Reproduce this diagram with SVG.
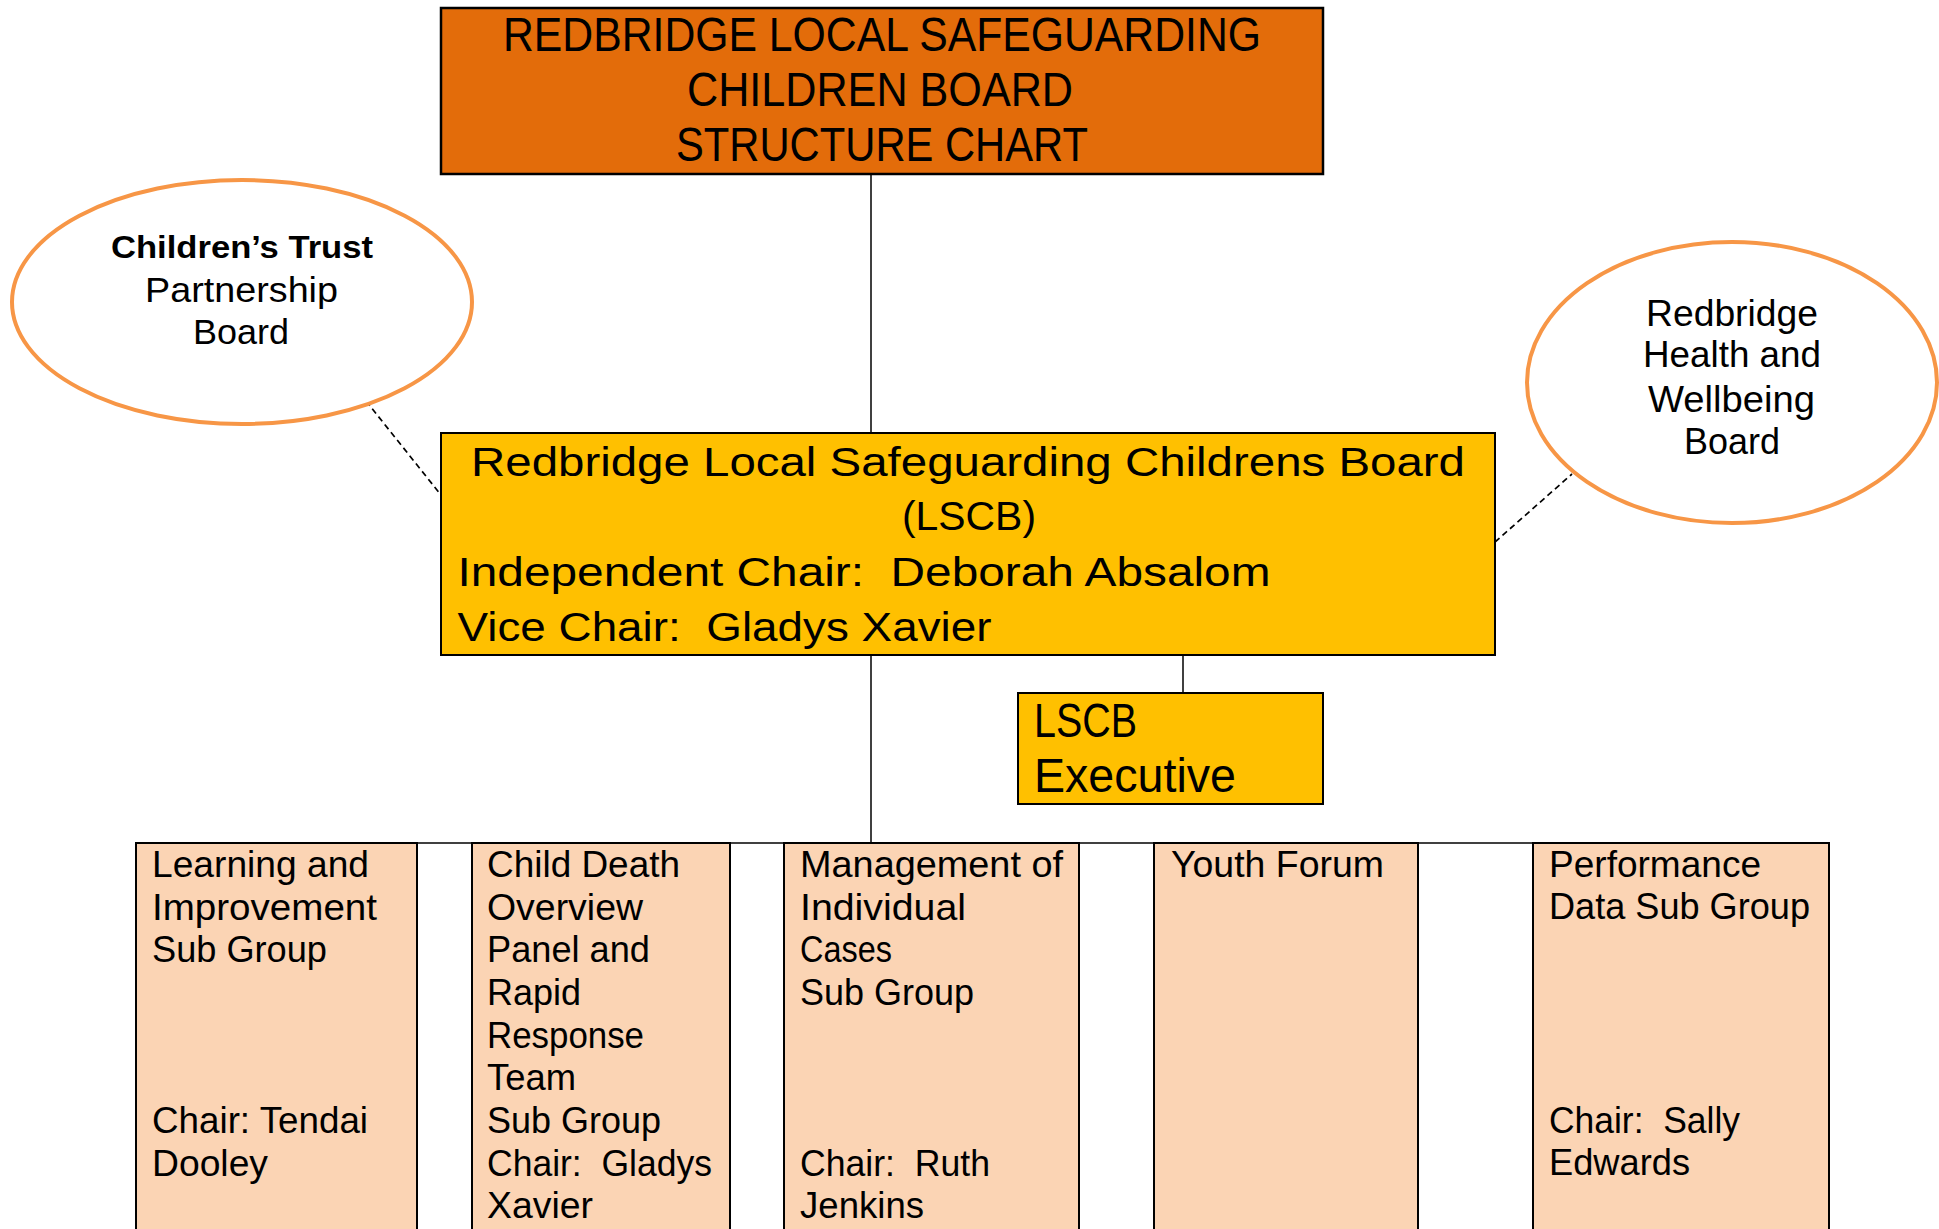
<svg xmlns="http://www.w3.org/2000/svg" width="1939" height="1229" viewBox="0 0 1939 1229" xml:space="preserve">
<style>
text{font-family:"Liberation Sans",Arial,sans-serif;fill:#000;white-space:pre}
.t{font-size:49px}
.y{font-size:41px}
.e{font-size:35px}
.b{font-size:36px}
.x{font-size:48px}
.ell{fill:#fff;stroke:#F79646;stroke-width:4}
.sub{fill:#FBD4B4;stroke:#000;stroke-width:2}
.conn{stroke:#000;stroke-width:1.5;fill:none}
.dash{stroke:#000;stroke-width:1.7;fill:none;stroke-dasharray:6 4}
</style>
<rect width="1939" height="1229" fill="#fff"/>
<g id="connectors">
<line class="conn" x1="871" y1="174" x2="871" y2="433"/>
<line class="conn" x1="871" y1="655" x2="871" y2="843"/>
<line class="conn" x1="1183" y1="655" x2="1183" y2="693"/>
<line class="dash" x1="366" y1="401" x2="441" y2="495"/>
<line class="dash" x1="1495" y1="542" x2="1572" y2="474"/>
</g>
<g id="title">
<rect x="441" y="8" width="882" height="166" fill="#E36C0A" stroke="#000" stroke-width="2.5"/>
<text class="t" x="882" y="51" text-anchor="middle" textLength="758" lengthAdjust="spacingAndGlyphs">REDBRIDGE LOCAL SAFEGUARDING</text>
<text class="t" x="880" y="106" text-anchor="middle" textLength="386" lengthAdjust="spacingAndGlyphs">CHILDREN BOARD</text>
<text class="t" x="882" y="161" text-anchor="middle" textLength="412" lengthAdjust="spacingAndGlyphs">STRUCTURE CHART</text>
</g>
<g id="childrens-trust">
<ellipse class="ell" cx="242" cy="302" rx="230" ry="122"/>
<text x="242" y="258" text-anchor="middle" font-size="32" font-weight="bold" textLength="262" lengthAdjust="spacingAndGlyphs">Children’s Trust</text>
<text class="e" x="241.5" y="302" text-anchor="middle" textLength="193" lengthAdjust="spacingAndGlyphs">Partnership</text>
<text class="e" x="241" y="344" text-anchor="middle" textLength="96" lengthAdjust="spacingAndGlyphs">Board</text>
</g>
<g id="health-wellbeing">
<ellipse class="ell" cx="1732" cy="382.5" rx="205" ry="140.5"/>
<text class="b" x="1732" y="326" text-anchor="middle" textLength="172" lengthAdjust="spacingAndGlyphs">Redbridge</text>
<text class="b" x="1732" y="367" text-anchor="middle" textLength="178" lengthAdjust="spacingAndGlyphs">Health and</text>
<text class="b" x="1731.5" y="412" text-anchor="middle" textLength="167" lengthAdjust="spacingAndGlyphs">Wellbeing</text>
<text class="b" x="1732" y="454" text-anchor="middle" textLength="96" lengthAdjust="spacingAndGlyphs">Board</text>
</g>
<g id="lscb">
<rect x="441" y="433" width="1054" height="222" fill="#FFC000" stroke="#000" stroke-width="2"/>
<text class="y" x="968" y="476" text-anchor="middle" textLength="994" lengthAdjust="spacingAndGlyphs">Redbridge Local Safeguarding Childrens Board</text>
<text class="y" x="969" y="530" text-anchor="middle" textLength="134" lengthAdjust="spacingAndGlyphs">(LSCB)</text>
<text class="y" x="457.5" y="586" textLength="813" lengthAdjust="spacingAndGlyphs">Independent Chair:  Deborah Absalom</text>
<text class="y" x="457.5" y="641" textLength="534" lengthAdjust="spacingAndGlyphs">Vice Chair:  Gladys Xavier</text>
</g>
<g id="lscb-executive">
<rect x="1018" y="693" width="305" height="111" fill="#FFC000" stroke="#000" stroke-width="2"/>
<text class="x" x="1034" y="737" textLength="103" lengthAdjust="spacingAndGlyphs">LSCB</text>
<text class="x" x="1034" y="792" textLength="202" lengthAdjust="spacingAndGlyphs">Executive</text>
</g>
<line id="subgroups-top" class="conn" x1="136" y1="843" x2="1829" y2="843" stroke-width="2"/>
<g id="learning-improvement">
<rect class="sub" x="136" y="843" width="281" height="400"/>
<text class="b" x="152" y="877" textLength="217" lengthAdjust="spacingAndGlyphs">Learning and</text>
<text class="b" x="152" y="920" textLength="225" lengthAdjust="spacingAndGlyphs">Improvement</text>
<text class="b" x="152" y="962" textLength="175" lengthAdjust="spacingAndGlyphs">Sub Group</text>
<text class="b" x="152" y="1133" textLength="216" lengthAdjust="spacingAndGlyphs">Chair: Tendai</text>
<text class="b" x="152" y="1176" textLength="116" lengthAdjust="spacingAndGlyphs">Dooley</text>
</g>
<g id="child-death">
<rect class="sub" x="472" y="843" width="258" height="400"/>
<text class="b" x="487" y="877" textLength="193" lengthAdjust="spacingAndGlyphs">Child Death</text>
<text class="b" x="487" y="920" textLength="156" lengthAdjust="spacingAndGlyphs">Overview</text>
<text class="b" x="487" y="962" textLength="163" lengthAdjust="spacingAndGlyphs">Panel and</text>
<text class="b" x="487" y="1005" textLength="94" lengthAdjust="spacingAndGlyphs">Rapid</text>
<text class="b" x="487" y="1048" textLength="157" lengthAdjust="spacingAndGlyphs">Response</text>
<text class="b" x="487" y="1090" textLength="89" lengthAdjust="spacingAndGlyphs">Team</text>
<text class="b" x="487" y="1133" textLength="174" lengthAdjust="spacingAndGlyphs">Sub Group</text>
<text class="b" x="487" y="1176" textLength="225" lengthAdjust="spacingAndGlyphs">Chair:  Gladys</text>
<text class="b" x="487" y="1218" textLength="106" lengthAdjust="spacingAndGlyphs">Xavier</text>
</g>
<g id="management-cases">
<rect class="sub" x="784" y="843" width="295" height="400"/>
<text class="b" x="800" y="877" textLength="263" lengthAdjust="spacingAndGlyphs">Management of</text>
<text class="b" x="800" y="920" textLength="166" lengthAdjust="spacingAndGlyphs">Individual</text>
<text class="b" x="800" y="962" textLength="92" lengthAdjust="spacingAndGlyphs">Cases</text>
<text class="b" x="800" y="1005" textLength="174" lengthAdjust="spacingAndGlyphs">Sub Group</text>
<text class="b" x="800" y="1176" textLength="190" lengthAdjust="spacingAndGlyphs">Chair:  Ruth</text>
<text class="b" x="800" y="1218" textLength="124" lengthAdjust="spacingAndGlyphs">Jenkins</text>
</g>
<g id="youth-forum">
<rect class="sub" x="1154" y="843" width="264" height="400"/>
<text class="b" x="1171" y="877" textLength="213" lengthAdjust="spacingAndGlyphs">Youth Forum</text>
</g>
<g id="performance-data">
<rect class="sub" x="1533" y="843" width="296" height="400"/>
<text class="b" x="1549" y="877" textLength="212" lengthAdjust="spacingAndGlyphs">Performance</text>
<text class="b" x="1549" y="919" textLength="261" lengthAdjust="spacingAndGlyphs">Data Sub Group</text>
<text class="b" x="1549" y="1133" textLength="191" lengthAdjust="spacingAndGlyphs">Chair:  Sally</text>
<text class="b" x="1549" y="1175" textLength="141" lengthAdjust="spacingAndGlyphs">Edwards</text>
</g>
</svg>
